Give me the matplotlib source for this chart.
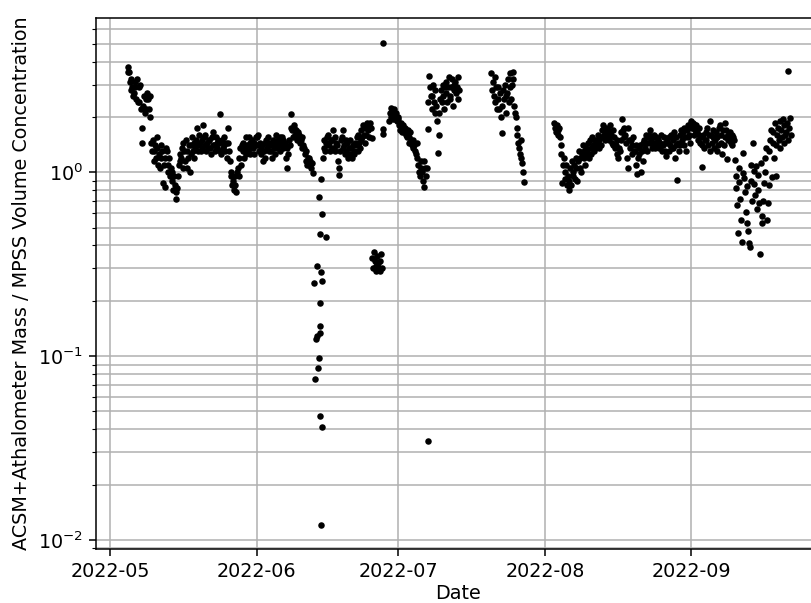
import numpy as np
import pandas as pd
import matplotlib
matplotlib.use('Agg')
import matplotlib.pyplot as plt
import matplotlib.dates as mdates

nan = np.nan

# readings every 4 h, one row per day (6 values)
may_start = '2022-05-04'
may_vals = [
    [nan, nan, nan, nan, 3.75, 3.5],
    [3.5, 3.1, 2.8, 3.2, 2.9, 2.6],
    [2.7, 2.9, 3.1, 2.5, 3.2, 2.4],
    [2.9, 2.4, 3.0, 2.2, 1.75, 1.45],
    [2.3, 2.6, 2.1, 2.5, 2.2, 2.7],
    [2.5, 2.2, 2.6, 2.0, 1.45, 1.3],
    [1.5, 1.3, 1.15, 1.4, 1.2, 1.55],
    [1.35, 1.1, 1.25, 1.05, 1.4, 1.2],
    [1.3, 0.87, 1.1, 1.2, 0.83, 1.35],
    [1.3, 1.1, 1.0, 1.2, 0.95, 1.05],
    [1.0, 0.9, 0.8, 0.95, 0.85, 0.72],
    [0.78, 0.82, 0.95, 1.1, 1.25, 1.15],
    [1.2, 1.35, 1.05, 1.45, 1.3, 1.15],
    [1.5, 1.3, 1.05, 1.2, 1.4, 1.0],
    [1.4, 1.25, 1.55, 1.3, 1.45, 1.2],
    [1.35, 1.5, 1.75, 1.4, 1.3, 1.6],
    [1.45, 1.3, 1.5, 1.35, 1.8, 1.55],
    [1.4, 1.6, 1.3, 1.45, 1.35, 1.5],
    [1.5, 1.35, 1.25, 1.55, 1.4, 1.65],
    [1.4, 1.3, 1.55, 1.45, 1.35, 1.5],
    [1.45, 1.3, 2.08, 1.25, 1.5, 1.35],
    [1.4, 1.55, 1.3, 1.45, 1.2, 1.75],
    [1.45, 1.3, 1.15, 1.0, 0.95, 0.85],
    [0.9, 0.8, 0.95, 0.85, 0.78, 1.0],
    [1.05, 0.95, 1.2, 1.35, 1.1, 1.4],
    [1.3, 1.45, 1.2, 1.35, 1.55, 1.25],
    [1.4, 1.3, 1.55, 1.45, 1.25, 1.35],
    [1.5, 1.35, 1.45, 1.25, 1.4, 1.55],
]

june_start = '2022-06-01'
june_vals = [
    [1.55, 1.4, 1.6, 1.3, 1.45, 1.35],
    [1.25, 1.4, 1.15, 1.3, 1.2, 1.45],
    [1.5, 1.35, 1.55, 1.3, 1.45, 1.4],
    [1.3, 1.45, 1.2, 1.5, 1.35, 1.25],
    [1.45, 1.6, 1.35, 1.5, 1.4, 1.55],
    [1.3, 1.45, 1.55, 1.35, 1.5, 1.4],
    [1.45, 1.2, 1.35, 1.05, 1.25, 1.5],
    [1.4, 1.75, 2.07, 1.7, 1.55, 1.8],
    [1.75, 1.6, 1.7, 1.5, 1.65, 1.55],
    [1.6, 1.45, 1.5, 1.35, 1.55, 1.4],
    [1.35, 1.25, 1.15, 1.3, 1.1, 1.2],
    [1.2, 1.1, 1.15, 1.05, 1.12, 0.99],
    [nan, nan, nan, nan, nan, nan],
    [nan, nan, nan, nan, nan, nan],
    [1.2, 1.35, 1.5, 1.3, 1.45, 1.55],
    [1.4, 1.6, 1.45, 1.3, 1.5, 1.35],
    [1.5, 1.7, 1.35, 1.55, 1.3, 1.45],
    [1.4, 1.15, 1.05, 0.97, 1.3, 1.5],
    [1.55, 1.35, 1.7, 1.4, 1.25, 1.5],
    [1.3, 1.45, 1.2, 1.35, 1.5, 1.25],
    [1.35, 1.2, 1.4, 1.25, 1.3, 1.45],
    [1.4, 1.55, 1.3, 1.6, 1.45, 1.35],
    [1.5, 1.7, 1.55, 1.8, 1.6, 1.45],
    [1.75, 1.6, 1.85, 1.7, 1.55, 1.8],
    [1.85, 1.75, 1.53, 0.34, 0.3, 0.37],
    [0.33, 0.31, 0.29, 0.35, 0.32, 0.3],
    [0.33, 0.29, 0.36, 0.3, 1.72, 1.62],
    [nan, nan, nan, nan, nan, nan],
    [1.9, 2.1, 2.25, 2.0, 2.15, 1.95],
    [2.2, 2.05, 1.95, 2.1, 1.9, 2.0],
]

july_a_start = '2022-07-01'
july_a_vals = [
    [1.95, 1.8, 1.7, 1.85, 1.75, 1.65],
    [1.8, 1.65, 1.75, 1.6, 1.7, 1.55],
    [1.7, 1.55, 1.45, 1.65, 1.5, 1.4],
    [1.5, 1.35, 1.4, 1.3, 1.25, 1.45],
    [1.2, 1.1, 1.0, 0.95, 1.15, 1.05],
    [1.0, 0.9, 1.15, 0.83, 1.05, 0.95],
    [1.05, 1.71, 2.4, 3.35, 2.9, 2.6],
    [2.6, 2.2, 3.0, 2.4, 2.8, 2.1],
    [2.3, 1.9, 1.28, 1.6, 2.1, 2.5],
    [2.8, 2.4, 3.0, 2.6, 2.2, 2.9],
    [2.7, 3.1, 2.4, 2.9, 3.3, 2.5],
    [2.6, 2.9, 3.2, 2.3, 2.8, 3.0],
    [3.1, 2.7, 2.9, 2.5, 3.3, 2.8],
]

july_b_start = '2022-07-20'
july_b_vals = [
    [nan, nan, nan, nan, 3.45, 2.8],
    [3.1, 2.6, 3.3, 2.4, 2.9, 2.2],
    [2.5, 2.9, 2.2, 2.7, 2.0, 1.63],
    [2.3, 2.8, 2.5, 3.0, 2.1, 2.6],
    [2.7, 3.2, 2.4, 2.9, 3.45, 2.5],
    [3.0, 3.2, 3.5, 2.3, 2.1, 2.0],
    [1.75, 1.6, 1.45, 1.35, 1.25, 1.5],
    [1.2, 1.13, 1.0, 0.89, nan, nan],
]

aug_start = '2022-08-03'
aug_vals = [
    [1.85, 1.75, 1.65, 1.8, 1.7, 1.6],
    [1.75, 1.55, 1.4, 1.25, 0.87, 1.1],
    [1.2, 1.0, 0.92, 1.1, 0.85, 0.95],
    [0.8, 0.9, 1.05, 0.85, 1.15, 0.95],
    [1.0, 1.1, 0.92, 1.2, 1.05, 0.9],
    [1.15, 1.3, 1.05, 1.2, 1.0, 1.25],
    [1.4, 1.2, 1.3, 1.1, 1.35, 1.25],
    [1.3, 1.45, 1.2, 1.5, 1.35, 1.25],
    [1.55, 1.4, 1.3, 1.5, 1.35, 1.45],
    [1.45, 1.6, 1.5, 1.35, 1.55, 1.4],
    [1.7, 1.55, 1.8, 1.6, 1.5, 1.65],
    [1.75, 1.6, 1.7, 1.5, 1.65, 1.8],
    [1.6, 1.45, 1.7, 1.4, 1.55, 1.35],
    [1.4, 1.25, 1.5, 1.2, 1.35, 1.3],
    [1.5, 1.65, 1.94, 1.7, 1.55, 1.75],
    [1.6, 1.45, 1.2, 1.75, 1.05, 1.5],
    [1.35, 1.5, 1.25, 1.4, 1.55, 1.3],
    [1.3, 1.1, 1.4, 0.98, 1.2, 1.35],
    [1.25, 1.4, 1.0, 1.3, 1.15, 1.45],
    [1.5, 1.35, 1.6, 1.45, 1.3, 1.55],
    [1.6, 1.45, 1.7, 1.5, 1.35, 1.55],
    [1.45, 1.6, 1.35, 1.55, 1.4, 1.5],
    [1.5, 1.35, 1.45, 1.6, 1.4, 1.3],
    [1.4, 1.55, 1.3, 1.45, 1.22, 1.5],
    [1.45, 1.3, 1.55, 1.4, 1.6, 1.35],
    [1.5, 1.35, 1.65, 1.2, 1.4, 1.55],
    [0.91, 1.45, 1.3, 1.6, 1.4, 1.7],
    [1.5, 1.65, 1.4, 1.75, 1.55, 1.3],
    [1.7, 1.55, 1.8, 1.6, 1.45, 1.85],
]

sep_start = '2022-09-01'
sep_vals = [
    [1.9, 1.75, 1.85, 1.6, 1.8, 1.7],
    [1.8, 1.65, 1.5, 1.75, 1.6, 1.45],
    [1.55, 1.07, 1.4, 1.6, 1.35, 1.5],
    [1.65, 1.5, 1.75, 1.4, 1.6, 1.3],
    [1.9, 1.6, 1.45, 1.7, 1.55, 1.35],
    [1.5, 1.65, 1.3, 1.55, 1.4, 1.75],
    [1.8, 1.45, 1.6, 1.25, 1.7, 1.4],
    [1.85, 1.55, 1.7, 1.18, 1.6, 1.5],
    [1.5, 1.65, 1.45, 1.6, 1.4, 1.55],
    [1.5, 1.16, 0.95, 0.82, 0.66, 0.47],
    [1.05, 0.88, 0.72, 0.55, 0.42, 0.99],
    [1.28, 0.93, 0.78, 0.61, 0.53, 0.84],
    [0.48, 0.41, 0.39, 1.1, 0.9, 0.7],
    [1.44, 1.02, 0.86, 0.75, 1.08, 0.63],
    [0.97, 0.8, 0.68, 0.36, 1.12, 0.58],
    [0.53, 0.7, 0.87, 1.0, 1.2, 1.35],
    [0.55, 0.68, 0.85, 1.3, 1.5, 1.7],
    [0.94, 1.45, 1.65, 1.2, 1.85, 1.4],
    [0.95, 1.6, 1.75, 1.5, 1.9, 1.35],
    [1.7, 1.55, 1.95, 1.45, 1.8, 1.6],
    [1.65, 1.85, 3.55, 1.5, 1.75, 1.97],
    [1.6, nan, nan, nan, nan, nan],
]

# irregular readings (mid-June drop and single outliers)
spot_times = ['2022-06-13 00:40', '2022-06-13 05:40', '2022-06-13 15:00', '2022-06-13 16:30',
              '2022-06-13 20:00', '2022-06-13 21:30', '2022-06-14 02:00', '2022-06-14 06:00',
              '2022-06-14 07:00', '2022-06-14 08:00', '2022-06-14 09:00', '2022-06-14 11:00',
              '2022-06-14 12:00', '2022-06-14 13:00', '2022-06-14 16:00', '2022-06-14 17:00',
              '2022-06-14 18:00', '2022-06-14 19:00', '2022-06-14 22:00', '2022-06-15 18:30',
              '2022-06-27 19:00', '2022-07-07 08:00']
spot_vals = [0.251, 0.075, 0.124, 0.128,
             0.310, 0.086, 0.098, 0.736,
             0.463, 0.195, 0.134, 0.146,
             0.047, 0.0121, 0.922, 0.287,
             0.255, 0.041, 0.594, 0.446,
             5.07, 0.0346]

segments = [(may_start, may_vals), (june_start, june_vals), (july_a_start, july_a_vals),
            (july_b_start, july_b_vals), (aug_start, aug_vals), (sep_start, sep_vals)]

t_list = []
v_list = []
for start, vals in segments:
    t_list.append(pd.date_range(start, periods=len(vals) * 6, freq='4h'))
    v_list.append(np.ravel(vals))
t_list.append(pd.to_datetime(spot_times))
v_list.append(np.array(spot_vals))

times = np.concatenate([t.values for t in t_list])
values = np.concatenate(v_list)
ok = ~np.isnan(values)

fs = 13.8
fig = plt.figure(figsize=(8.11, 6.03), dpi=100)
ax = fig.add_axes([0.1184, 0.0896, 0.8915, 0.8806])
ax.scatter(times[ok], values[ok], s=22, c='black', linewidths=0, zorder=3)
ax.set_yscale('log')
ax.set_ylim(0.00893, 6.91)
ax.set_xlim(pd.Timestamp('2022-04-28'), pd.Timestamp('2022-09-28'))
ax.xaxis.set_major_locator(mdates.MonthLocator())
ax.xaxis.set_major_formatter(mdates.DateFormatter('%Y-%m'))
ax.set_axisbelow(True)
ax.grid(True, which='both', color='#b0b0b0', lw=1.1)
ax.tick_params(which='major', labelsize=fs, length=4.8, width=1.1, pad=4.8)
ax.tick_params(which='minor', length=2.8, width=0.8)
for sp in ax.spines.values():
    sp.set_linewidth(1.1)
ax.set_xlabel('Date', fontsize=fs, labelpad=2)
ax.set_ylabel('ACSM+Athalometer Mass / MPSS Volume Concentration', fontsize=fs, labelpad=5)

fig.savefig('out.png', dpi=100)
